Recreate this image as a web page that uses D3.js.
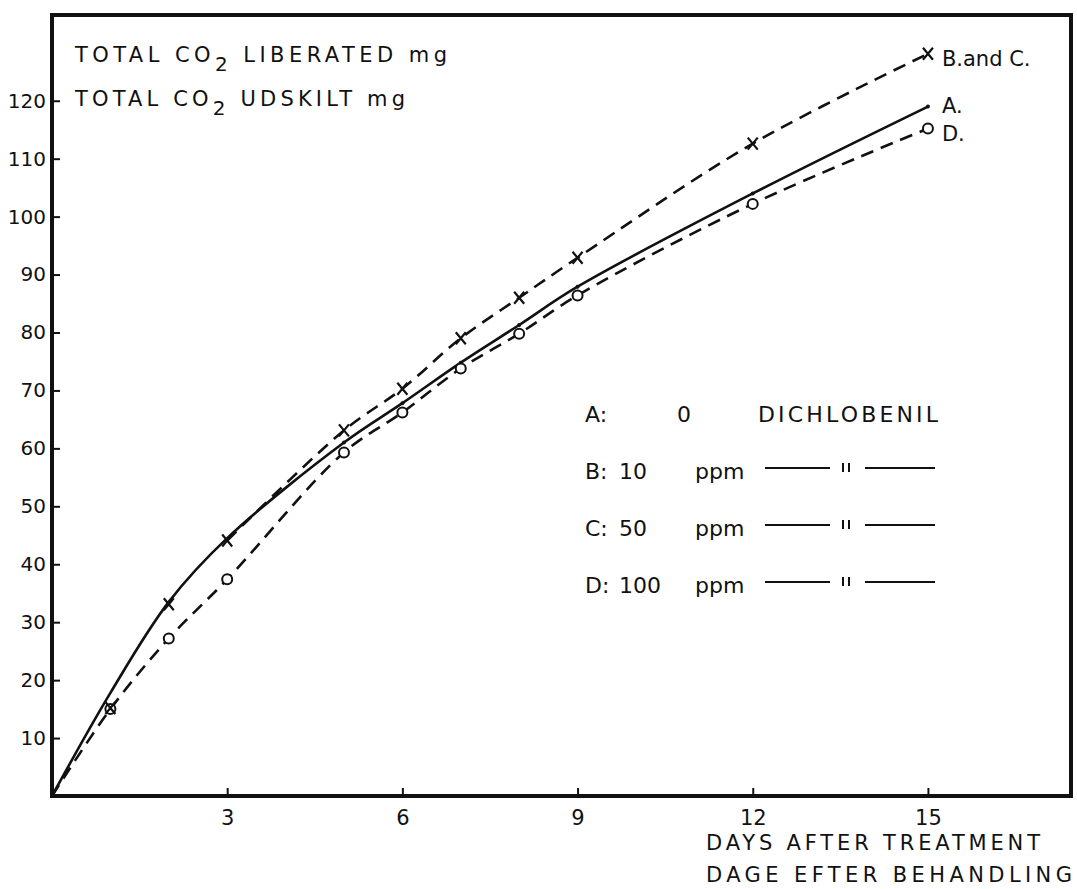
<!DOCTYPE html>
<html>
<head>
<meta charset="utf-8">
<script src="https://cdn.jsdelivr.net/npm/d3@7"></script>
<style>
  body { margin: 0; background: #fff; }
  svg text { font-family: "DejaVu Sans", sans-serif; fill: #111; }
</style>
</head>
<body>
<svg id="chart"></svg>
<script>
// days after treatment
var days = [0, 1, 2, 3, 5, 6, 7, 8, 9, 12, 15]
// total CO2 liberated, mg
var seriesA = [0, 17.8, 33.5, 44.5, 61.0, 67.8, 74.8, 81.3, 87.9, 104.0, 119.0]
var seriesBC = [0, 15.2, 33.1, 44.1, 63.1, 70.3, 79.0, 86.0, 92.9, 112.6, 128.1]
var seriesD = [0, 15.0, 27.2, 37.4, 59.3, 66.2, 73.8, 79.8, 86.4, 102.2, 115.2]

var xTicks = [3, 6, 9, 12, 15]
var yTicks = [10, 20, 30, 40, 50, 60, 70, 80, 90, 100, 110, 120]

var legendRows = [
  {key: 'A:', dose: '0', unit: ''},
  {key: 'B:', dose: '10', unit: 'ppm'},
  {key: 'C:', dose: '50', unit: 'ppm'},
  {key: 'D:', dose: '100', unit: 'ppm'}
]

var outerWidth = 1077, outerHeight = 889
var plot = {left: 52, right: 1071, top: 15, bottom: 796}

var svg = d3.select('svg#chart')
    .attr('width', outerWidth)
    .attr('height', outerHeight)

var xScale = d3.scaleLinear().domain([0, 17.45]).range([plot.left, plot.right])
var yScale = d3.scaleLinear().domain([0, 134.8]).range([plot.bottom, plot.top])

// frame
svg.append('rect')
    .attr('x', plot.left)
    .attr('y', plot.top)
    .attr('width', plot.right - plot.left)
    .attr('height', plot.bottom - plot.top)
    .attr('fill', 'none')
    .attr('stroke', '#111')
    .attr('stroke-width', 4)

// axes, ticks pointing inward
var yAxis = d3.axisLeft(yScale).tickValues(yTicks).tickSizeInner(-8).tickSizeOuter(0).tickPadding(6)
var gy = svg.append('g')
    .attr('class', 'y axis')
    .attr('transform', 'translate(' + plot.left + ',0)')
    .call(yAxis)

var xAxis = d3.axisBottom(xScale).tickValues(xTicks).tickSizeInner(-8).tickSizeOuter(0).tickPadding(14)
var gx = svg.append('g')
    .attr('class', 'x axis')
    .attr('transform', 'translate(0,' + plot.bottom + ')')
    .call(xAxis)

svg.selectAll('.axis .domain').remove()
svg.selectAll('.axis line').attr('stroke', '#111').attr('stroke-width', 2)
svg.selectAll('.axis text')
    .style('font-family', '"DejaVu Sans", sans-serif')
    .style('font-size', '20px')
    .attr('fill', '#111')
gx.selectAll('text').attr('dy', '0.71em').style('font-size', '21px')

// curves
function pts(values) {
  return days.map(function(d, i) { return {day: d, value: values[i]} })
}

var line = d3.line()
    .x(function(d) { return xScale(d.day) })
    .y(function(d) { return yScale(d.value) })
    .curve(d3.curveCatmullRom.alpha(0.5))

svg.append('path')
    .datum(pts(seriesA))
    .attr('d', line)
    .attr('fill', 'none')
    .attr('stroke', '#111')
    .attr('stroke-width', 2.6)

svg.append('path')
    .datum(pts(seriesBC).filter(function(d) { return d.day >= 3 }))
    .attr('d', line)
    .attr('fill', 'none')
    .attr('stroke', '#111')
    .attr('stroke-width', 2.6)
    .attr('stroke-dasharray', '13,8')

svg.append('path')
    .datum(pts(seriesD))
    .attr('d', line)
    .attr('fill', 'none')
    .attr('stroke', '#111')
    .attr('stroke-width', 2.6)
    .attr('stroke-dasharray', '13,8')

// markers
svg.selectAll('.dotA')
    .data(pts(seriesA).filter(function(d) { return d.day >= 5 }))
    .enter().append('circle')
    .attr('class', 'dotA')
    .attr('cx', function(d) { return xScale(d.day) })
    .attr('cy', function(d) { return yScale(d.value) })
    .attr('r', 2)
    .attr('fill', '#111')

svg.selectAll('.markD')
    .data(pts(seriesD).filter(function(d) { return d.day > 0 }))
    .enter().append('circle')
    .attr('class', 'markD')
    .attr('cx', function(d) { return xScale(d.day) })
    .attr('cy', function(d) { return yScale(d.value) })
    .attr('r', 5)
    .attr('fill', '#fff')
    .attr('stroke', '#111')
    .attr('stroke-width', 2)

svg.selectAll('.markBC')
    .data(pts(seriesBC).filter(function(d) { return d.day > 0 }))
    .enter().append('path')
    .attr('class', 'markBC')
    .attr('d', function(d) {
      var cx = xScale(d.day), cy = yScale(d.value)
      return 'M' + (cx - 5) + ',' + (cy - 6) + 'L' + (cx + 5) + ',' + (cy + 6) +
             'M' + (cx + 5) + ',' + (cy - 6) + 'L' + (cx - 5) + ',' + (cy + 6)
    })
    .attr('stroke', '#111')
    .attr('stroke-width', 2.2)
    .attr('fill', 'none')

// end labels
var last = days.length - 1
var endLabels = [
  {text: 'B.and C.', value: seriesBC[last], dy: 12},
  {text: 'A.', value: seriesA[last], dy: 6},
  {text: 'D.', value: seriesD[last], dy: 12}
]
svg.selectAll('.endlabel')
    .data(endLabels)
    .enter().append('text')
    .attr('class', 'endlabel')
    .attr('x', xScale(days[last]) + 14)
    .attr('y', function(d) { return yScale(d.value) + d.dy })
    .style('font-size', '21px')
    .text(function(d) { return d.text })

// title text, top left
function co2Title(y, before, after, len) {
  var t = svg.append('text')
      .attr('x', 75)
      .attr('y', y)
      .style('font-size', '21px')
      .attr('textLength', len)
      .attr('lengthAdjust', 'spacing')
  t.append('tspan').text(before)
  t.append('tspan').attr('dy', 9).style('font-size', '20px').text('2')
  t.append('tspan').attr('dy', -9).text(after)
}
co2Title(62, 'TOTAL  CO', ' LIBERATED mg', 372)
co2Title(106, 'TOTAL  CO', ' UDSKILT mg', 330)

// x axis title
svg.append('text')
    .attr('x', 706).attr('y', 850)
    .style('font-size', '21px')
    .attr('textLength', 334).attr('lengthAdjust', 'spacing')
    .text('DAYS AFTER TREATMENT')
svg.append('text')
    .attr('x', 706).attr('y', 882)
    .style('font-size', '21px')
    .attr('textLength', 366).attr('lengthAdjust', 'spacing')
    .text('DAGE EFTER BEHANDLING')

// legend
var legend = svg.append('g').attr('class', 'legend')
var rowY = d3.scaleLinear().domain([0, 3]).range([422, 593])
legendRows.forEach(function(r, i) {
  var g = legend.append('g').attr('transform', 'translate(0,' + rowY(i) + ')')
  g.append('text').attr('x', 585).style('font-size', '22px').text(r.key)
  g.append('text').attr('x', i === 0 ? 677 : 619).style('font-size', '22px').text(r.dose)
  if (i === 0) {
    g.append('text').attr('x', 758).style('font-size', '22px')
        .attr('textLength', 180).attr('lengthAdjust', 'spacing').text('DICHLOBENIL')
  } else {
    g.append('text').attr('x', 695).style('font-size', '22px').text(r.unit)
    g.append('line').attr('x1', 765).attr('x2', 830).attr('y1', -11).attr('y2', -11)
        .attr('stroke', '#111').attr('stroke-width', 2)
    // ditto marks
    g.append('line').attr('x1', 843).attr('x2', 843).attr('y1', -16).attr('y2', -7)
        .attr('stroke', '#111').attr('stroke-width', 2)
    g.append('line').attr('x1', 849).attr('x2', 849).attr('y1', -16).attr('y2', -7)
        .attr('stroke', '#111').attr('stroke-width', 2)
    g.append('line').attr('x1', 865).attr('x2', 935).attr('y1', -11).attr('y2', -11)
        .attr('stroke', '#111').attr('stroke-width', 2)
  }
})
</script>
</body>
</html>
